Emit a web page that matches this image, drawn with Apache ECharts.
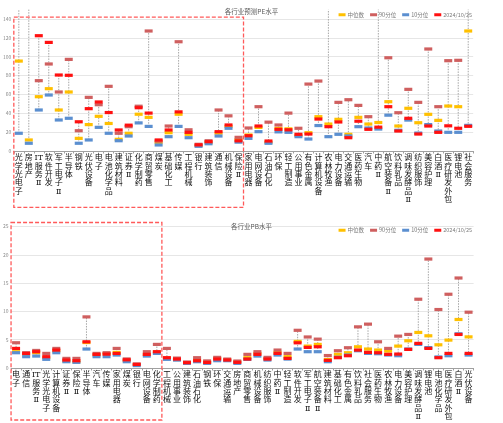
<!DOCTYPE html>
<html><head><meta charset="utf-8">
<script src="https://cdn.jsdelivr.net/npm/echarts@6/dist/echarts.min.js"></script>
<style>html,body{margin:0;padding:0;background:#fff}#c{width:503px;height:423px}</style>
</head><body><div id="c"></div>
<script>
const seriesNames = ['中位数', '90分位', '10分位', '2024/10/25'];
const seriesColors = ['#FFC000', '#CF5F5F', '#5B8FD0', '#FF1010'];

const peCats = ['光学光电子','房地产','IT服务Ⅱ','软件开发','军工电子Ⅱ','半导体','钢铁','光伏设备','电子','电池化学品','建筑材料','证券Ⅱ','化学制药','商贸零售','煤炭','基础化工','传媒','工程机械','银行','建筑装饰','通信','机械设备','保险Ⅱ','家用电器','电网设备','石油石化','环保','轻工制造','公用事业','有色金属','计算机设备','农林牧渔','电力设备','交通运输','医药生物','汽车','中药Ⅱ','航空装备Ⅱ','饮料乳品','调味发酵品Ⅱ','纺织服饰','美容护理','白酒Ⅱ','医疗研发外包','锂电池','社会服务'];
const peMedian = [95.4,11.7,57.6,66.1,43.5,62.6,13.4,28,36.8,29.2,12.4,18.8,39,35.7,9,19.4,39,17.7,5.8,8.8,19,26,12,17,25,9.2,24,23.5,16.6,19.4,36.4,28.6,33.6,17.7,35.7,28.6,30.2,52.3,26.5,45.3,30,38.9,32.5,47.7,47,127.3];
const pe90 = [210,260,74.6,92.3,62.6,97.2,21.5,56.9,49.1,68.6,18.8,25.8,47.5,127.3,10.5,26.5,115.9,22.5,7.1,10.9,43.5,37.3,14.5,24.4,47,30.6,27.6,40.2,24.1,71,74.2,190,51.6,54.4,48.4,36.4,180,98.9,40.6,65.4,51.6,108.2,47,95.8,96.2,200];
const pe10 = [18.8,8.2,43.5,59.4,32.9,34.7,8.2,11.7,25.1,18.8,10.9,15.9,29.8,26.1,6.4,15.2,26.1,14.1,5,7.7,15.9,24.1,9.4,13.4,20.5,8.2,20.3,19.8,15.2,12.7,27,15.2,17.7,16,25.8,24.4,23.3,38,22,32.8,19,28,21.2,19.8,19.8,27.2];
const peCurrent = [180,190,122.3,115.2,80.6,80.3,31,44.9,52,40.8,22.3,27.4,45.9,40.2,11.7,22.3,41.5,19.8,6.5,9.9,20.5,27.6,10.8,16.2,26.5,10.6,23,22.5,17.7,18,33.9,25.8,30.8,14.1,31.6,23,25.3,47,21.2,34.7,18,26.5,19.8,26.7,24.1,26.2];
const peTicks = [0,20,40,60,80,100,120,140];

const pbCats = ['电子','通信','IT服务Ⅱ','光学光电子','计算机设备','证券Ⅱ','保险Ⅱ','半导体','汽车','传媒','家用电器','煤炭','银行','电网设备','化学制药','工程机械','公用事业','建筑装饰','石油石化','钢铁','环保','交通运输','房地产','商贸零售','机械设备','纺织服饰','中药Ⅱ','轻工制造','软件开发','军工电子Ⅱ','航空装备Ⅱ','建筑材料','基础化工','有色金属','饮料乳品','社会服务','医药生物','农林牧渔','电力设备','美容护理','调味发酵品Ⅱ','锂电池','电池化学品','医疗研发外包','白酒Ⅱ','光伏设备'];
const pbMedian = [2.88,2.29,2.7,1.82,2.99,1.23,1.1,4.5,2.29,2.55,2.76,1.3,0.58,2.35,2.8,1.75,1.5,0.95,1.41,1.05,1.7,1.45,1.1,1.82,2.58,1.65,2.76,2.0,4.7,3.87,4.17,1.5,2.41,2.7,3.75,3.35,3.17,2.99,3.87,4.81,6.28,5.69,4.1,4.93,8.57,5.5];
const pb90 = [4.46,2.7,3.1,2.58,3.46,1.7,1.7,9.03,2.58,2.7,3.46,1.6,0.72,2.88,4.17,3.46,1.75,1.06,1.82,1.25,1.88,1.58,1.23,2.41,2.88,1.88,3.17,2.58,6.66,5.48,5.1,2.2,3.05,3.58,7.27,7.75,4.63,3.46,5.63,5.93,12.15,19.25,10.33,13.03,15.9,9.86];
const pb10 = [2.7,2.0,2.11,1.53,2.7,1.11,1.0,3.35,2.0,2.0,2.29,1.11,0.42,2.11,2.58,1.53,1.4,0.82,1.11,0.82,1.29,1.29,0.82,1.53,2.11,1.41,2.29,1.58,3.35,2.88,2.88,1.11,1.9,2.29,3.05,2.58,2.52,2.3,2.17,3.35,4.17,3.6,1.95,2.17,6.04,2.29];
const pbCurrent = [3.46,2.58,2.88,2.0,3.17,1.41,1.29,4.63,2.41,2.45,2.58,1.45,0.63,2.41,2.88,1.82,1.58,0.94,1.29,0.98,1.58,1.41,1.0,1.58,2.41,1.58,2.58,1.7,4.45,3.64,3.75,1.35,1.82,2.17,3.17,2.76,2.7,2.41,2.46,3.29,4.35,3.46,1.82,2.58,5.93,2.58];
const pbTicks = [0,5,10,15,20,25];

const PE_MAX = 150, PB_MAX = 25;
const FONT = '"Noto Sans CJK SC", "Noto Sans", sans-serif';
const LABEL_FONT = '"DejaVu Serif", "Noto Sans CJK SC", serif';

function vertical(name) { return (name.match(/IT|./g) || []).join('\n'); }

function rangeData(a, b, c, d) {
  return a.map((_, i) => [i, Math.min(a[i], b[i], c[i], d[i]), Math.max(a[i], b[i], c[i], d[i])]);
}

function rangeSeries(idx, data, max) {
  return {
    type: 'custom', name: 'range' + idx, xAxisIndex: idx, yAxisIndex: idx, z: 1,
    silent: true, data: data,
    renderItem: function (params, api) {
      const x = api.value(0);
      const p1 = api.coord([x, api.value(1)]);
      const p2 = api.coord([x, Math.min(api.value(2), max)]);
      return { type: 'line', shape: { x1: p1[0], y1: p1[1], x2: p2[0], y2: p2[1] },
        style: { stroke: '#a6a6a6', lineWidth: 1, lineDash: [1.5, 1.2] } };
    }
  };
}

function markerSeries(idx, arrays) {
  return arrays.map((arr, k) => ({
    type: 'scatter', name: seriesNames[k], xAxisIndex: idx, yAxisIndex: idx,
    symbol: 'rect', symbolSize: [8, 3.2], clip: true, z: 3 + k,
    itemStyle: { color: seriesColors[k], opacity: 1 },
    data: arr.map((v, i) => [i, v])
  }));
}

function xAxis(idx, cats) {
  return {
    type: 'category', gridIndex: idx, data: cats, boundaryGap: true,
    axisLine: { lineStyle: { color: '#a0a0a0', width: 1 } },
    axisTick: { show: true, length: 2.5, lineStyle: { color: '#a0a0a0' } },
    axisLabel: { interval: 0, formatter: vertical, fontSize: 8, lineHeight: 8.4,
      color: '#111', margin: 3, fontFamily: LABEL_FONT, verticalAlign: 'top' }
  };
}

function yAxis(idx, ticks, max) {
  return {
    type: 'value', gridIndex: idx, min: ticks[0], max: max, interval: ticks[1] - ticks[0],
    axisLine: { show: false }, axisTick: { show: false },
    axisLabel: { fontSize: 5, color: '#8a8a8a', margin: 2.5, fontFamily: FONT,
      showMaxLabel: max === ticks[ticks.length - 1] },
    splitLine: { show: true, showMaxLine: max === ticks[ticks.length - 1],
      lineStyle: { color: '#e6e6e6', width: 1 } }
  };
}

const legendCommon = {
  data: seriesNames, right: 26, icon: 'rect', itemWidth: 7, itemHeight: 3, itemGap: 6,
  textStyle: { fontSize: 5.5, color: '#7a7a7a', fontFamily: FONT, padding: [0, 0, 0, -3] }
};

const chart = echarts.init(document.getElementById('c'), null, { renderer: 'canvas' });
const option = {
  animation: false,
  backgroundColor: '#fff',
  title: [
    { text: '各行业预测PE水平', left: 'center', top: 3, textStyle: { fontSize: 6.5, fontWeight: 'normal', color: '#595959', fontFamily: FONT } },
    { text: '各行业PB水平', left: 'center', top: 218.5, textStyle: { fontSize: 6.5, fontWeight: 'normal', color: '#595959', fontFamily: FONT } }
  ],
  legend: [
    Object.assign({ top: 7 }, legendCommon),
    Object.assign({ top: 222.5 }, legendCommon)
  ],
  grid: [
    { left: 11.7, width: 461.5, top: 9.6, height: 141.4 },
    { left: 9.6, width: 464, top: 226.5, height: 141.5 }
  ],
  xAxis: [xAxis(0, peCats), xAxis(1, pbCats)],
  yAxis: [yAxis(0, peTicks, PE_MAX), yAxis(1, pbTicks, PB_MAX)],
  series: [
    rangeSeries(0, rangeData(peMedian, pe90, pe10, peCurrent), PE_MAX),
    rangeSeries(1, rangeData(pbMedian, pb90, pb10, pbCurrent), PB_MAX)
  ].concat(markerSeries(0, [peMedian, pe90, pe10, peCurrent]))
   .concat(markerSeries(1, [pbMedian, pb90, pb10, pbCurrent]))
};
chart.setOption(option);

// highlight boxes computed from the axes
function boxX(axisIdx, lastIdx) {
  const c0 = chart.convertToPixel({ xAxisIndex: axisIdx }, 0);
  const c1 = chart.convertToPixel({ xAxisIndex: axisIdx }, 1);
  const cl = chart.convertToPixel({ xAxisIndex: axisIdx }, lastIdx);
  const half = (c1 - c0) / 2;
  return [c0 - half, cl + half];
}
const topX = boxX(0, peCats.indexOf('保险Ⅱ'));
const botX = boxX(1, pbCats.indexOf('化学制药'));
const topY = chart.convertToPixel({ yAxisIndex: 0 }, 142);
const botY = chart.convertToPixel({ yAxisIndex: 1 }, 25) - 4;
const boxStyle = { fill: 'none', stroke: '#FF5A5A', lineWidth: 1.3, lineDash: [4, 2] };
chart.setOption({
  graphic: [
    { type: 'rect', z: 100, silent: true, shape: { x: topX[0], y: topY, width: topX[1] - topX[0], height: 207.3 - topY }, style: boxStyle },
    { type: 'rect', z: 100, silent: true, shape: { x: botX[0], y: botY, width: botX[1] - botX[0], height: 420 - botY }, style: boxStyle }
  ]
});
</script></body></html>
